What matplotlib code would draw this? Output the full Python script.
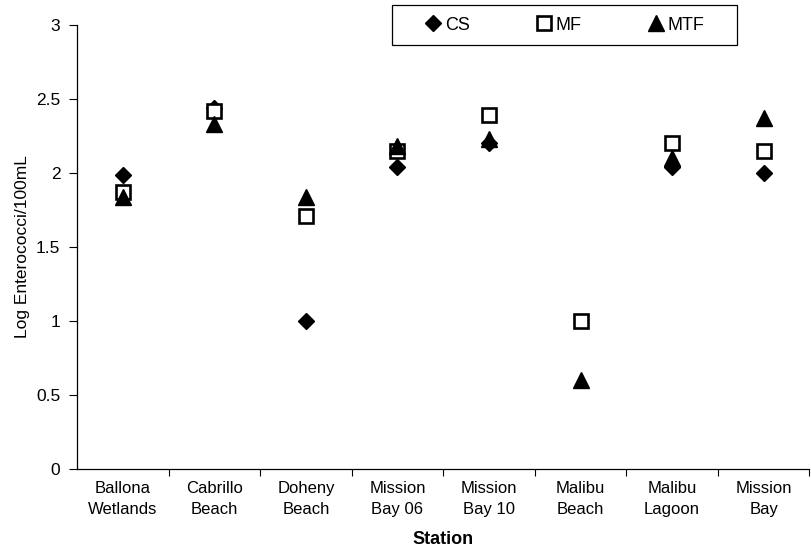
import numpy as np
import matplotlib
matplotlib.use("Agg")
import matplotlib.pyplot as plt
from matplotlib.patches import Rectangle

#===================== data =====================
stations = ["Ballona\nWetlands", "Cabrillo\nBeach", "Doheny\nBeach", "Mission\nBay 06",
            "Mission\nBay 10", "Malibu\nBeach", "Malibu\nLagoon", "Mission\nBay"]
cs  = [1.99, 2.44, 1.00, 2.04, 2.20, np.nan, 2.04, 2.00]
mf  = [1.87, 2.42, 1.71, 2.15, 2.39, 1.00, 2.20, 2.15]
mtf = [1.84, 2.33, 1.84, 2.18, 2.23, 0.60, 2.10, 2.37]

#===================== plot =====================
plt.rcParams['font.family'] = ['Liberation Sans', 'DejaVu Sans']

fig = plt.figure(figsize=(8.11, 5.58), dpi=100)
ax = fig.add_axes([0.095, 0.1595, 0.903, 0.7955])

x = np.arange(len(stations))
ax.plot(x, cs, linestyle='none', marker='D', markersize=8, color='black', label='CS', zorder=3)
ax.plot(x, mf, linestyle='none', marker='s', markersize=10.5, markerfacecolor='white',
        markeredgecolor='black', markeredgewidth=1.9, label='MF', zorder=4)
ax.plot(x, mtf, linestyle='none', marker='^', markersize=11, color='black', label='MTF', zorder=5)

ax.set_xlim(-0.5, len(stations) - 0.5)
ax.set_ylim(0, 3)
ax.set_yticks([0, 0.5, 1, 1.5, 2, 2.5, 3])
ax.set_yticklabels(['0', '0.5', '1', '1.5', '2', '2.5', '3'], fontsize=12.5)

# category labels centred, ticks between categories
ax.set_xticks(x)
ax.set_xticklabels(stations, fontsize=12)
for lab in ax.get_xticklabels():
    lab.set_linespacing(1.45)
ax.tick_params(axis='x', which='major', length=0, pad=9)
ax.set_xticks(np.arange(0.5, len(stations) - 0.5 + 0.01, 1), minor=True)
ax.tick_params(axis='x', which='minor', length=5, direction='out', width=0.8)
ax.tick_params(axis='y', length=6, direction='out', width=0.8, pad=6)

for s in ['top', 'right']:
    ax.spines[s].set_visible(False)
for s in ['left', 'bottom']:
    ax.spines[s].set_linewidth(0.9)

ax.set_xlabel('Station', fontsize=13, fontweight='bold', labelpad=10)
ax.set_ylabel('Log Enterococci/100mL', fontsize=12.5, labelpad=4)

# legend without its own frame, boxed separately like the original
leg = fig.legend(loc='center', bbox_to_anchor=(0.696, 0.955), ncol=3, frameon=False,
                 fontsize=13, handletextpad=0.15, handlelength=1.0, columnspacing=3.6)
fig.patches.append(Rectangle((392 / 811, 1 - 45 / 558), 345 / 811, 40 / 558,
                             transform=fig.transFigure, facecolor='white',
                             edgecolor='black', linewidth=0.9, zorder=0))

plt.savefig('out.png', dpi=100)
plt.close()
